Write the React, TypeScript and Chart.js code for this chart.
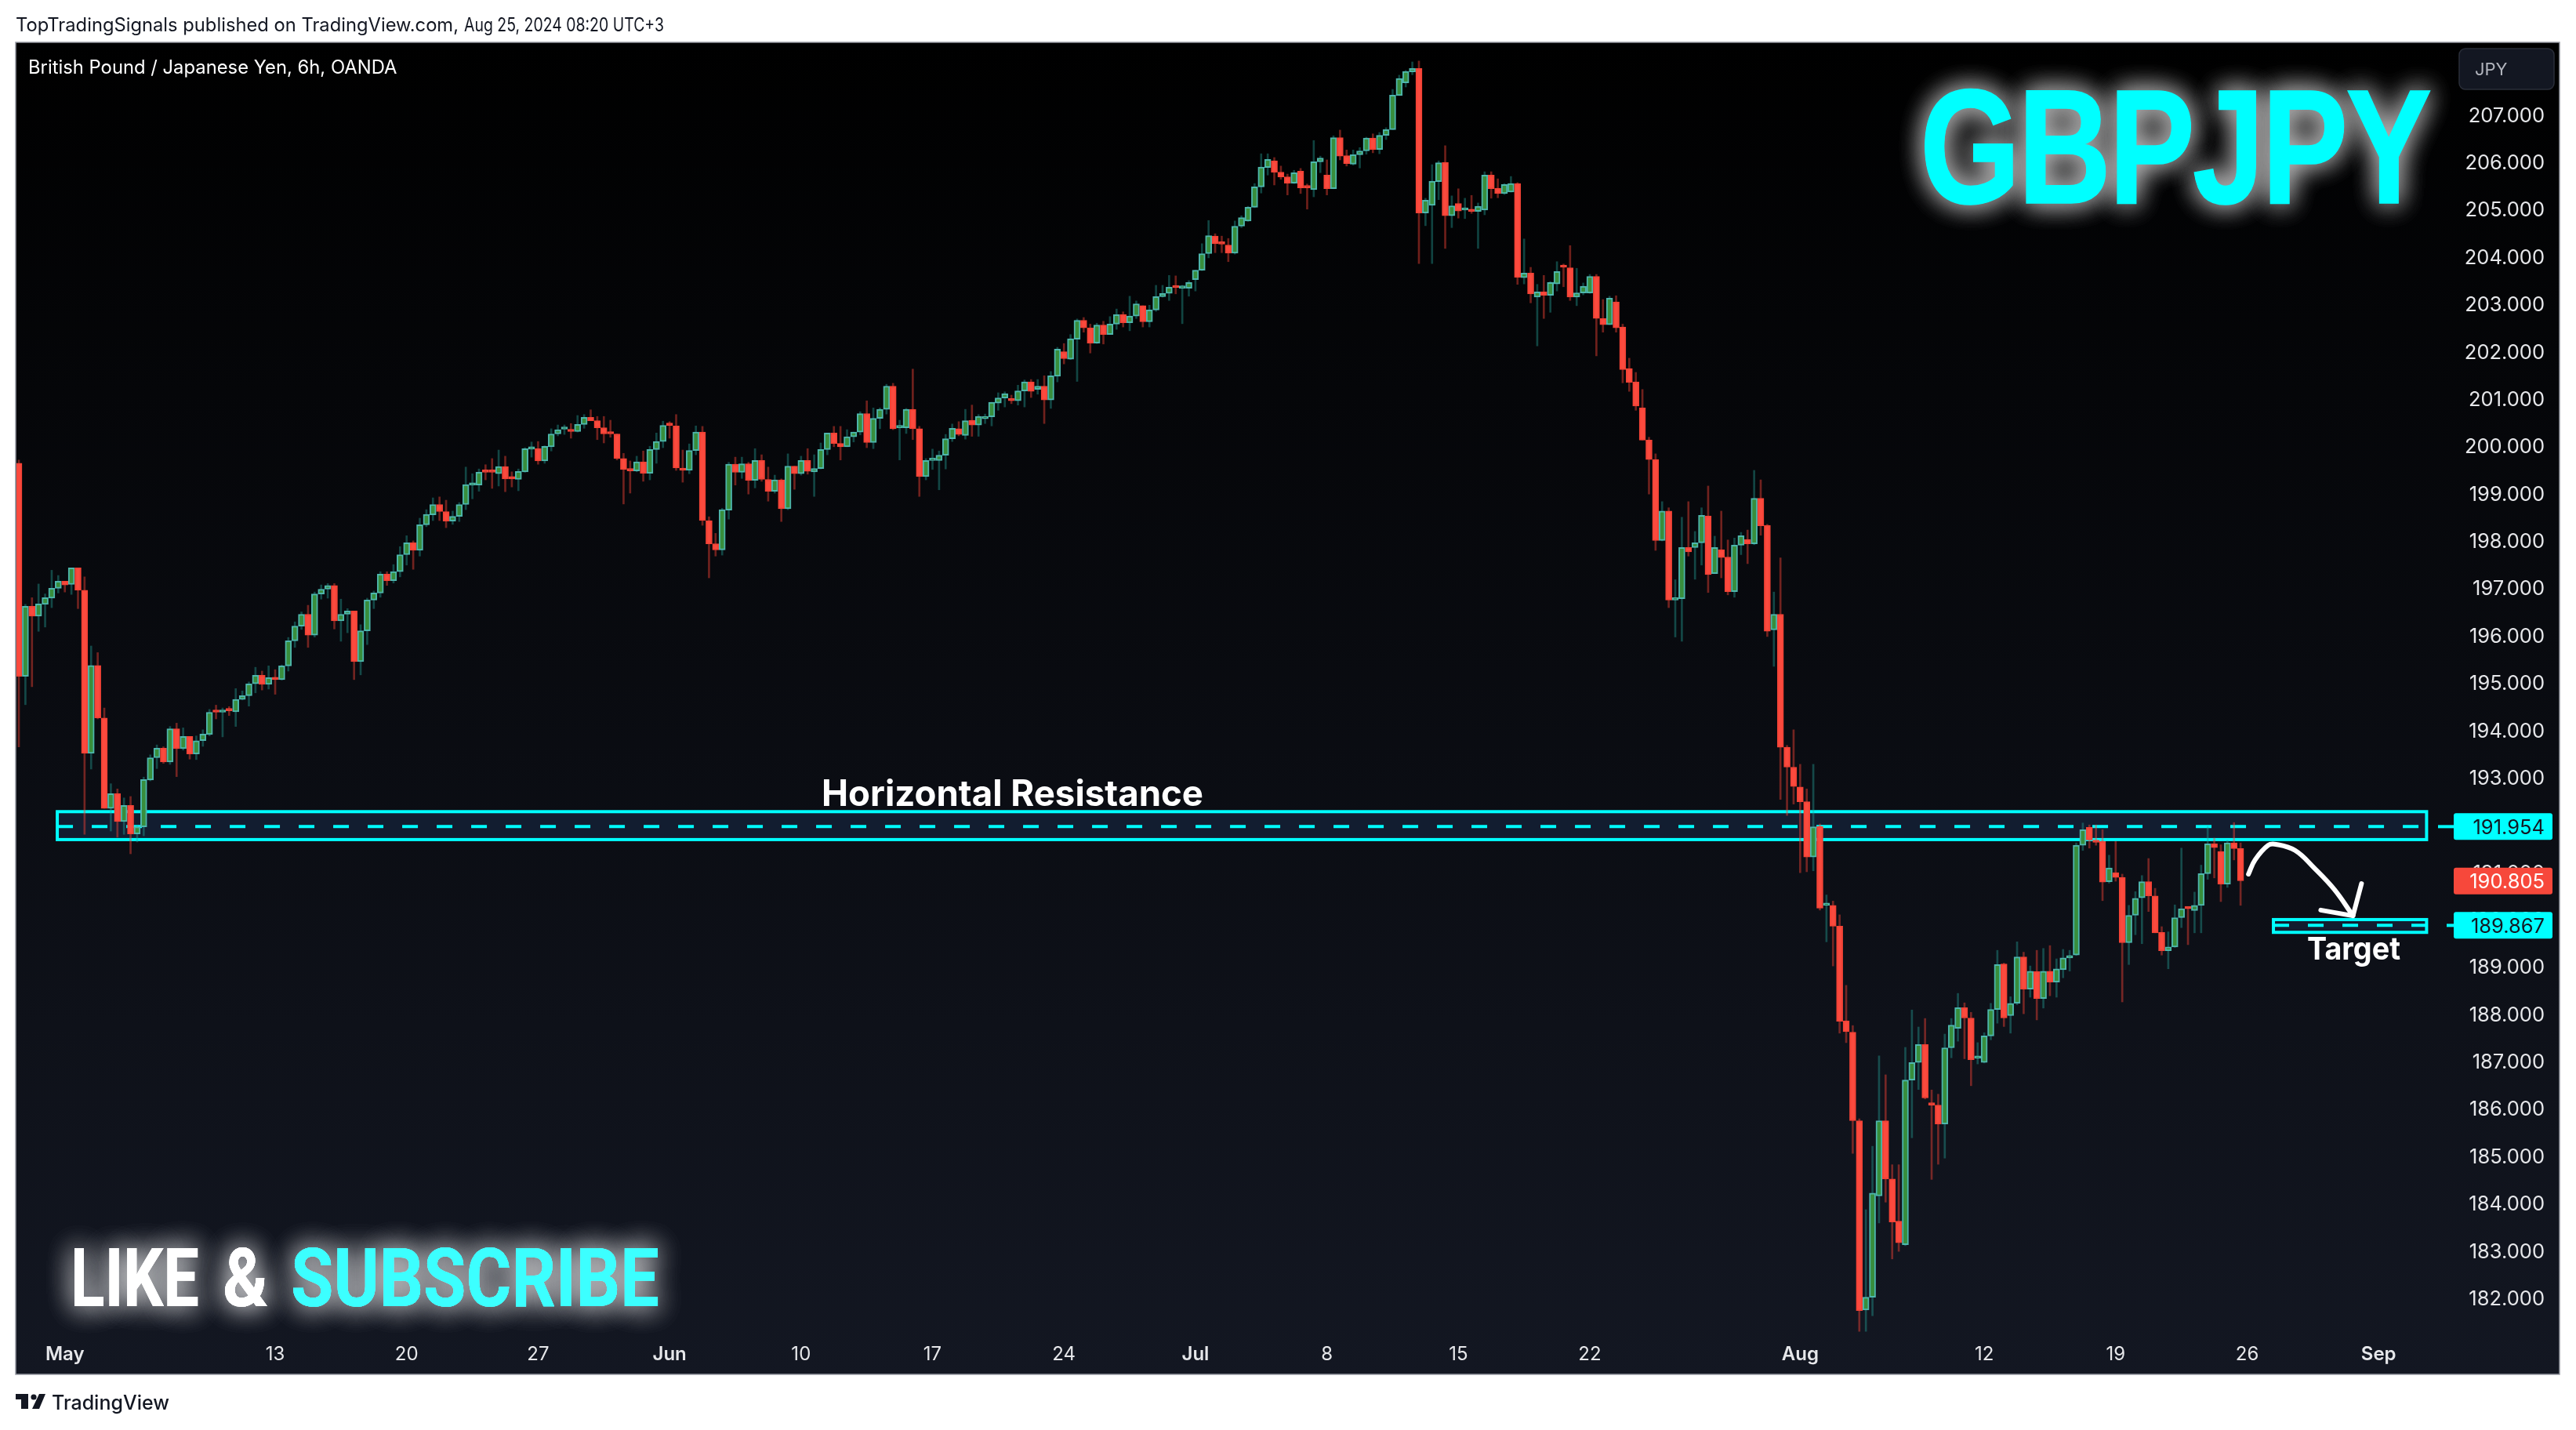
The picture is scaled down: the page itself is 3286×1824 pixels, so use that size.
import React, { useEffect, useRef } from 'react';
import Chart from 'chart.js/auto';

// 6h candles, left to right
const opens = [
  199.63,195.13,196.61,196.40,196.65,196.78,196.99,197.14,197.07,197.42,
  196.95,193.50,195.36,194.25,192.34,192.65,192.06,192.40,191.80,191.95,
  192.94,193.41,193.61,193.32,194.02,193.60,193.86,193.49,193.77,193.90,
  194.39,194.37,194.43,194.38,194.64,194.72,194.97,195.15,194.96,195.10,
  195.06,195.35,195.88,196.19,196.44,196.00,196.87,196.97,197.05,196.30,
  196.44,196.51,195.44,196.09,196.74,196.89,197.29,197.15,197.34,197.70,
  197.95,197.79,198.33,198.54,198.76,198.61,198.41,198.51,198.76,199.17,
  199.17,199.46,199.46,199.41,199.56,199.33,199.29,199.45,199.93,199.94,
  199.68,199.98,200.25,200.35,200.35,200.30,200.45,200.60,200.53,200.38,
  200.27,200.25,199.73,199.51,199.47,199.66,199.42,199.92,200.09,200.45,
  200.42,199.53,199.48,199.90,200.29,198.42,197.93,197.80,198.64,199.61,
  199.44,199.62,199.27,199.69,199.29,199.04,199.28,198.67,199.57,199.41,
  199.69,199.45,199.52,199.92,200.27,200.05,199.98,200.19,200.29,200.68,
  200.07,200.58,200.77,201.26,200.38,200.38,200.77,200.36,199.35,199.69,
  199.69,199.80,200.15,200.36,200.22,200.54,200.44,200.57,200.61,200.90,
  201.01,201.00,200.95,201.16,201.35,201.19,201.26,200.97,201.47,201.99,
  201.83,202.25,202.65,202.49,202.17,202.55,202.35,202.57,202.77,202.60,
  202.74,202.96,202.62,202.87,203.15,203.22,203.37,203.33,203.33,203.51,
  203.71,204.06,204.43,204.28,204.24,204.07,204.64,204.75,205.04,205.47,
  205.88,206.02,205.78,205.68,205.55,205.80,205.47,205.41,206.00,205.72,
  205.43,206.51,206.13,205.95,206.15,206.23,206.50,206.26,206.56,206.68,
  207.40,207.67,207.90,207.97,204.92,205.08,205.58,205.99,204.86,205.12,
  204.98,204.99,204.95,204.98,205.72,205.44,205.33,205.36,205.54,203.55,
  203.65,203.14,203.25,203.18,203.42,203.80,203.76,203.14,203.23,203.23,
  203.58,202.69,202.56,203.04,202.51,201.63,201.35,200.80,200.12,199.71,
  198.00,198.62,196.74,196.77,197.85,197.85,197.95,198.52,197.30,197.80,
  197.65,196.92,197.90,198.02,197.93,198.89,198.32,196.11,196.44,193.63,
  193.21,192.79,192.48,191.31,191.96,190.29,190.29,189.85,187.85,187.61,
  185.74,181.74,182.01,184.15,185.74,184.51,183.62,183.12,186.60,186.97,
  187.35,186.12,186.07,185.67,187.28,187.69,188.13,187.91,187.06,186.97,
  187.53,188.09,189.05,187.96,188.22,189.20,188.52,188.89,188.32,188.90,
  188.67,188.93,189.18,189.24,191.56,191.94,191.67,191.64,190.79,190.98,
  190.88,189.50,190.08,190.45,190.79,190.49,189.72,189.33,189.41,190.03,
  190.24,190.18,190.29,190.96,191.59,191.43,190.74,191.61,191.49,
];
const highs = [
  199.70,196.65,196.79,197.08,196.87,197.37,197.26,197.14,197.42,197.42,
  197.23,195.77,195.63,194.46,192.86,192.75,192.56,192.59,191.97,193.00,
  193.47,193.68,193.64,194.07,194.14,194.04,193.86,193.87,194.00,194.43,
  194.52,194.46,194.49,194.87,194.82,195.01,195.32,195.24,195.35,195.27,
  195.37,195.95,196.28,196.49,196.63,196.91,197.06,197.09,197.09,196.76,
  196.56,196.51,196.22,196.78,196.93,197.34,197.34,197.49,197.87,198.10,
  197.99,198.47,198.65,198.90,198.92,198.85,198.62,198.80,199.55,199.41,
  199.51,199.60,199.73,199.91,199.78,199.45,199.51,199.96,200.08,200.09,
  200.00,200.36,200.44,200.44,200.47,200.64,200.66,200.76,200.62,200.62,
  200.54,200.25,199.84,199.68,199.78,199.89,199.99,200.27,200.52,200.51,
  200.66,199.91,200.04,200.42,200.41,198.50,198.15,198.68,199.65,199.76,
  199.76,199.65,199.94,199.81,199.55,199.38,199.30,199.83,199.57,199.78,
  199.94,199.81,200.06,200.27,200.41,200.41,200.34,200.29,200.72,200.95,
  200.80,200.80,201.30,201.32,200.54,200.79,201.62,200.41,199.73,199.93,
  199.89,200.24,200.46,200.51,200.77,200.86,200.66,200.67,200.92,201.12,
  201.14,201.07,201.28,201.39,201.40,201.40,201.48,201.57,202.08,202.16,
  202.35,202.68,202.71,202.57,202.59,202.63,202.73,202.89,202.83,203.16,
  203.06,202.96,202.97,203.39,203.39,203.60,203.59,203.39,203.49,203.71,
  204.27,204.76,204.48,204.43,204.38,204.75,204.86,205.06,205.54,206.17,
  206.17,206.09,205.91,205.74,205.82,205.86,205.53,206.45,206.12,206.04,
  206.55,206.67,206.25,206.25,206.30,206.52,206.59,206.62,206.72,207.53,
  207.83,207.93,208.11,208.13,205.23,205.94,206.02,206.34,205.28,205.43,
  205.23,205.29,205.13,205.79,205.79,205.64,205.54,205.69,205.56,204.37,
  203.77,203.41,203.60,203.47,203.89,203.84,204.23,203.75,203.44,203.62,
  203.62,203.09,203.16,203.17,202.57,201.85,201.55,201.19,200.18,199.83,
  198.82,198.69,197.17,198.49,198.82,198.19,198.69,199.15,198.09,198.62,
  198.01,198.05,198.17,198.22,199.48,199.28,198.34,196.91,197.63,193.67,
  194.00,193.27,192.75,193.27,192.01,190.51,190.38,190.09,188.60,187.75,
  185.78,183.86,185.20,187.11,186.71,184.81,184.81,187.29,188.08,187.72,
  187.90,186.39,186.30,187.57,187.90,188.43,188.23,188.03,187.39,187.60,
  188.22,189.34,189.07,188.36,189.52,189.30,189.01,189.34,189.38,189.44,
  189.16,189.36,189.34,191.61,192.03,191.99,191.99,191.89,191.35,191.64,
  190.95,190.29,190.58,190.92,191.28,190.65,189.84,189.73,190.30,191.50,
  190.24,190.57,191.14,191.96,191.71,191.57,191.67,192.04,191.61,
];
const lows = [
  193.64,194.53,194.91,196.08,196.17,196.58,196.89,196.91,196.86,196.56,
  191.79,193.17,194.23,192.34,191.86,191.73,191.79,191.38,191.63,191.76,
  192.92,193.18,193.29,193.27,193.01,193.57,193.38,193.37,193.65,193.87,
  194.23,193.85,194.30,194.07,194.63,194.50,194.78,194.84,194.86,194.75,
  195.05,195.24,195.74,196.12,195.74,195.96,196.76,196.78,196.13,195.87,
  196.05,195.06,195.16,195.80,196.56,196.80,197.05,197.10,197.23,197.48,
  197.39,197.67,198.29,198.42,198.42,198.27,198.34,198.40,198.65,198.88,
  199.04,199.28,199.10,199.15,199.03,199.13,199.05,199.44,199.76,199.61,
  199.63,199.89,200.21,200.24,200.16,200.29,200.37,200.53,200.13,200.06,
  200.18,199.70,198.77,199.00,199.45,199.25,199.28,199.63,199.96,200.16,
  199.48,199.23,199.41,199.81,198.32,197.21,197.67,197.69,198.45,199.17,
  199.31,198.98,199.11,199.25,198.83,199.00,198.40,198.65,199.08,199.38,
  199.40,198.93,199.51,199.81,199.98,199.70,199.98,200.08,200.23,199.96,
  199.94,200.36,200.67,200.34,199.70,200.26,200.13,198.93,199.28,199.50,
  199.07,199.51,200.09,200.21,200.14,200.20,200.20,200.47,200.42,200.75,
  200.82,200.89,200.86,200.82,201.02,201.09,200.47,200.79,201.35,201.73,
  201.82,201.36,202.40,201.96,202.16,202.15,202.35,202.46,202.51,202.43,
  202.69,202.51,202.51,202.84,203.14,203.07,203.21,202.58,203.16,203.27,
  203.70,203.97,204.08,204.08,203.89,204.05,204.61,204.74,205.03,205.34,
  205.72,205.51,205.63,205.30,205.54,205.33,205.00,205.26,205.77,205.30,
  205.43,206.04,205.91,205.93,205.87,206.16,206.19,206.17,206.47,206.68,
  207.40,207.58,207.84,203.85,204.65,203.85,205.20,204.17,204.61,204.81,
  204.80,204.91,204.17,204.88,205.23,205.24,205.31,205.36,203.41,203.42,
  203.02,202.11,202.69,202.82,203.27,203.36,203.07,202.96,203.19,203.22,
  201.90,202.40,202.56,202.40,201.33,201.15,200.75,200.12,198.98,197.79,
  197.99,196.58,195.96,195.87,197.67,197.18,197.48,196.90,197.30,197.21,
  196.85,196.80,197.70,197.51,197.91,198.11,195.97,195.34,192.53,192.19,
  192.43,190.98,191.00,191.02,190.19,189.52,189.01,187.59,187.39,185.05,
  181.29,181.29,181.62,183.58,184.02,182.82,182.98,183.10,185.38,186.40,
  186.20,184.50,184.82,184.95,187.07,187.42,187.05,186.48,186.94,186.96,
  187.45,187.80,187.73,187.59,188.19,188.00,188.35,187.87,188.12,188.38,
  188.35,188.76,188.90,189.23,191.45,191.50,191.56,190.39,190.76,190.80,
  188.25,189.04,189.67,189.48,190.16,189.71,189.24,188.95,189.40,189.82,
  189.46,189.71,189.71,190.84,190.87,190.37,190.67,191.25,190.29,
];
const closes = [
  195.13,196.61,196.40,196.66,196.79,196.99,197.14,197.06,197.42,196.95,
  193.50,195.36,194.25,192.34,192.65,192.06,192.40,191.80,191.95,192.95,
  193.41,193.61,193.32,194.02,193.60,193.86,193.49,193.77,193.91,194.37,
  194.37,194.40,194.40,194.64,194.72,194.97,195.15,194.96,195.10,195.06,
  195.35,195.88,196.19,196.44,196.00,196.87,196.97,197.05,196.30,196.44,
  196.51,195.44,196.09,196.74,196.89,197.29,197.15,197.34,197.70,197.95,
  197.79,198.33,198.55,198.76,198.61,198.41,198.51,198.76,199.18,199.19,
  199.44,199.44,199.44,199.56,199.30,199.30,199.46,199.94,199.95,199.68,
  199.99,200.25,200.34,200.37,200.30,200.45,200.60,200.53,200.38,200.25,
  200.25,199.73,199.50,199.47,199.66,199.42,199.92,200.09,200.43,200.43,
  199.53,199.48,199.90,200.29,198.42,197.93,197.80,198.65,199.61,199.44,
  199.62,199.27,199.69,199.29,199.04,199.28,198.67,199.57,199.41,199.69,
  199.46,199.52,199.92,200.27,200.05,199.98,200.19,200.29,200.68,200.07,
  200.58,200.77,201.26,200.36,200.40,200.77,200.36,199.35,199.69,199.72,
  199.80,200.15,200.37,200.24,200.53,200.44,200.62,200.62,200.92,201.01,
  201.10,200.95,201.16,201.35,201.15,201.26,200.97,201.48,202.04,201.84,
  202.26,202.65,202.49,202.17,202.55,202.35,202.57,202.77,202.60,202.74,
  203.00,202.62,202.87,203.15,203.22,203.35,203.34,203.35,203.45,203.71,
  204.06,204.44,204.27,204.26,204.07,204.64,204.82,205.04,205.47,205.89,
  206.05,205.78,205.68,205.55,205.77,205.45,205.45,206.00,206.08,205.43,
  206.51,206.12,205.96,206.15,206.23,206.50,206.26,206.56,206.68,207.41,
  207.76,207.91,207.97,204.92,205.19,205.59,205.98,204.86,205.07,204.96,
  205.01,204.95,205.06,205.72,205.43,205.33,205.52,205.54,203.56,203.65,
  203.21,203.25,203.18,203.45,203.68,203.77,203.14,203.23,203.37,203.58,
  202.69,202.56,203.12,202.49,201.61,201.34,200.84,200.12,199.71,198.00,
  198.62,196.74,196.77,197.85,197.76,197.95,198.53,197.28,197.85,197.64,
  196.92,197.90,198.10,197.93,198.89,198.31,196.08,196.44,193.63,193.21,
  192.80,192.48,191.31,191.95,190.23,190.31,189.85,187.84,187.62,185.74,
  181.73,182.01,184.21,185.74,184.51,183.60,183.16,186.60,186.97,187.35,
  186.22,186.07,185.67,187.28,187.76,188.13,187.91,187.03,187.08,187.53,
  188.09,189.04,187.91,188.22,189.20,188.52,188.90,188.32,188.90,188.67,
  188.95,189.18,189.23,191.56,191.89,191.67,191.62,190.78,191.08,190.88,
  189.50,190.08,190.44,190.79,190.49,189.71,189.33,189.41,190.03,190.22,
  190.22,190.29,190.96,191.59,191.51,190.74,191.61,191.49,190.81,
];

const xTickIndex = [7, 39, 59, 79, 99, 119, 139, 159, 179, 199, 219, 239, 271, 299, 319, 339, 359];
const xTickLabels = ['May', '13', '20', '27', 'Jun', '10', '17', '24', 'Jul', '8', '15', '22', 'Aug', '12', '19', '26', 'Sep'];
const monthLabels = ['May', 'Jun', 'Jul', 'Aug', 'Sep'];
const yTicks = [182, 183, 184, 185, 186, 187, 188, 189, 190, 191, 192, 193, 194, 195, 196, 197, 198, 199, 200, 201, 202, 203, 204, 205, 206, 207];

// zones, in candle index and price
const resistanceZone = { from: 5.85, to: 366.3, top: 192.27, mid: 191.954, bottom: 191.68 };
const targetZone = { from: 343, to: 366.3, top: 189.99, mid: 189.867, bottom: 189.72 };
const lastPrice = 190.805;

const arrowX = [339.2, 340.2, 342.2, 343.4, 346.3, 349.2, 352.3, 355.1];
const arrowY = [190.95, 191.25, 191.56, 191.58, 191.45, 191.08, 190.62, 190.07];
const arrowHeadX = [356.4, 355.1, 350.2];
const arrowHeadY = [190.75, 190.07, 190.19];

const UP_FILL = '#388e3c';
const UP_EDGE = '#4db6ac';
const DOWN_FILL = '#fb4a3e';
const DOWN_EDGE = '#f44336';
const UP_WICK = 'rgba(38,166,154,0.40)';
const DOWN_WICK = 'rgba(244,67,54,0.45)';
const CYAN = '#00ffff';
const TICK_FONT = 'Inter, sans-serif';

const isUp = closes.map((c, i) => c >= opens[i]);

function fitText(ctx: any, text: string, x: number, base: number, width: number, font: string, color: string, glow?: string, spacing = 0, stroke = 0) {
  ctx.save();
  ctx.font = font;
  ctx.fillStyle = color;
  ctx.textAlign = 'left';
  ctx.textBaseline = 'alphabetic';
  ctx.letterSpacing = `${spacing}px`;
  const w = ctx.measureText(text).width;
  ctx.translate(x, base);
  ctx.scale(width / w, 1);
  if (glow) {
    ctx.shadowColor = glow;
    ctx.shadowBlur = 34;
    ctx.fillText(text, 0, 0);
    ctx.fillText(text, 0, 0);
  }
  ctx.fillText(text, 0, 0);
  if (stroke) {
    ctx.shadowColor = 'transparent';
    ctx.strokeStyle = color;
    ctx.lineWidth = stroke;
    ctx.strokeText(text, 0, 0);
  }
  ctx.restore();
}

function plainText(ctx: any, text: string, x: number, y: number, font: string, color: string, align = 'left') {
  ctx.save();
  ctx.font = font;
  ctx.fillStyle = color;
  ctx.textAlign = align;
  ctx.textBaseline = 'middle';
  ctx.fillText(text, x, y);
  ctx.restore();
}

function drawZone(chart: any, z: typeof targetZone) {
  const { ctx, scales } = chart;
  const x1 = scales.x.getPixelForValue(z.from);
  const x2 = scales.x.getPixelForValue(z.to);
  const top = scales.y.getPixelForValue(z.top);
  const bottom = scales.y.getPixelForValue(z.bottom);
  const mid = scales.y.getPixelForValue(z.mid);
  ctx.save();
  ctx.fillStyle = '#121d30';
  ctx.fillRect(x1, top, x2 - x1, bottom - top);
  ctx.strokeStyle = CYAN;
  ctx.lineWidth = 4;
  ctx.strokeRect(x1, top, x2 - x1, bottom - top);
  ctx.setLineDash([20, 24]);
  ctx.lineWidth = 4;
  ctx.beginPath();
  ctx.moveTo(x1, mid);
  ctx.lineTo(x2, mid);
  ctx.stroke();
  ctx.restore();
}

function priceTag(chart: any, value: number, bg: string, fg: string, stub: number) {
  const { ctx, scales } = chart;
  const y = scales.y.getPixelForValue(value);
  ctx.save();
  if (stub) {
    ctx.strokeStyle = bg;
    ctx.lineWidth = 4;
    ctx.beginPath();
    ctx.moveTo(stub, y);
    ctx.lineTo(3130, y);
    ctx.stroke();
  }
  ctx.fillStyle = bg;
  ctx.beginPath();
  ctx.roundRect(3130, y - 17, 126, 34, 3);
  ctx.fill();
  ctx.restore();
  plainText(ctx, value.toFixed(3), 3246, y + 2, `25.5px ${TICK_FONT}`, fg, 'right');
}

const backdrop = {
  id: 'backdrop',
  beforeDraw(chart: any) {
    const { ctx, width, height } = chart;
    ctx.save();
    ctx.fillStyle = '#ffffff';
    ctx.fillRect(0, 0, width, height);
    const g = ctx.createLinearGradient(0, 54, 0, 1753);
    g.addColorStop(0, '#000000');
    g.addColorStop(1, '#131722');
    ctx.fillStyle = g;
    ctx.fillRect(20, 54, 3245, 1699);
    ctx.strokeStyle = '#9598a1';
    ctx.lineWidth = 1.5;
    ctx.strokeRect(20, 54, 3245, 1699);
    ctx.restore();
  },
  beforeDatasetsDraw(chart: any) {
    drawZone(chart, resistanceZone);
    drawZone(chart, targetZone);
  },
};

const overlay = {
  id: 'overlay',
  afterDraw(chart: any) {
    const { ctx } = chart;
    fitText(ctx, 'TopTradingSignals published on TradingView.com,', 20, 40, 565, `23.7px ${TICK_FONT}`, '#131722');
    fitText(ctx, 'Aug 25, 2024 08:20 UTC+3', 592, 40, 255, `23.7px ${TICK_FONT}`, '#131722');
    plainText(ctx, 'British Pound / Japanese Yen, 6h, OANDA', 36, 87, `23.8px ${TICK_FONT}`, '#ffffff');

    priceTag(chart, lastPrice, '#f7483b', '#ffffff', 0);
    priceTag(chart, resistanceZone.mid, CYAN, '#131722', 3110);
    priceTag(chart, targetZone.mid, CYAN, '#131722', 3121);

    // currency button
    ctx.save();
    ctx.fillStyle = '#131722';
    ctx.strokeStyle = '#2a2e39';
    ctx.lineWidth = 1.5;
    ctx.beginPath();
    ctx.roundRect(3137, 62, 121, 52, 8);
    ctx.fill();
    ctx.stroke();
    ctx.restore();
    plainText(ctx, 'JPY', 3157, 89, `22px ${TICK_FONT}`, '#b2b5be');

    fitText(ctx, 'GBPJPY', 2449, 259, 650, 'bold 208px "Liberation Sans"', CYAN, 'rgba(255,255,255,0.45)', -4, 1.5);
    fitText(ctx, 'LIKE', 90, 1666, 164, 'bold 103px Roboto', '#ffffff', 'rgba(255,255,255,0.5)');
    fitText(ctx, '&', 284, 1666, 58, 'bold 103px Roboto', '#ffffff', 'rgba(255,255,255,0.5)');
    fitText(ctx, 'SUBSCRIBE', 371, 1666, 470, 'bold 103px Roboto', '#3cffff', 'rgba(255,255,255,0.5)');
    fitText(ctx, 'Horizontal Resistance', 1048, 1028, 487, `700 46px ${TICK_FONT}`, '#ffffff');
    fitText(ctx, 'Target', 2943, 1224, 119, `700 40px ${TICK_FONT}`, '#ffffff');

    // TradingView mark
    ctx.save();
    ctx.fillStyle = '#131722';
    ctx.beginPath();
    ctx.moveTo(20, 1778);
    ctx.lineTo(36, 1778);
    ctx.lineTo(36, 1797);
    ctx.lineTo(27, 1797);
    ctx.lineTo(27, 1785);
    ctx.lineTo(20, 1785);
    ctx.closePath();
    ctx.fill();
    ctx.beginPath();
    ctx.arc(43, 1782, 3.6, 0, Math.PI * 2);
    ctx.fill();
    ctx.beginPath();
    ctx.moveTo(50, 1778);
    ctx.lineTo(58, 1778);
    ctx.lineTo(50, 1797);
    ctx.lineTo(41, 1797);
    ctx.closePath();
    ctx.fill();
    ctx.restore();
    plainText(ctx, 'TradingView', 66, 1790, `500 25px ${TICK_FONT}`, '#131722');
  },
};

export default function App(): React.JSX.Element {
  const canvasRef = useRef<HTMLCanvasElement | null>(null);

  useEffect(() => {
    if (!canvasRef.current) return;
    const chart = new Chart(canvasRef.current, {
      type: 'bar',
      data: {
        datasets: [
          {
            type: 'line',
            data: arrowHeadX.map((x, i) => ({ x, y: arrowHeadY[i] })),
            borderColor: '#ffffff',
            borderWidth: 6,
            borderCapStyle: 'round',
            borderJoinStyle: 'round',
            pointRadius: 0,
            order: 0,
          },
          {
            type: 'line',
            data: arrowX.map((x, i) => ({ x, y: arrowY[i] })),
            borderColor: '#ffffff',
            borderWidth: 6,
            borderCapStyle: 'round',
            tension: 0.4,
            pointRadius: 0,
            order: 0,
          },
          {
            label: 'bodies',
            data: closes.map((c, i) => ({ x: i, y: [opens[i], c] })),
            backgroundColor: isUp.map((u) => (u ? UP_FILL : DOWN_FILL)),
            borderColor: isUp.map((u) => (u ? UP_EDGE : DOWN_EDGE)),
            borderWidth: 2,
            borderSkipped: false,
            barThickness: 8,
            grouped: false,
            minBarLength: 3,
            order: 1,
          },
          {
            label: 'wicks',
            data: highs.map((h, i) => ({ x: i, y: [lows[i], h] })),
            backgroundColor: isUp.map((u) => (u ? UP_WICK : DOWN_WICK)),
            barThickness: 2,
            grouped: false,
            order: 2,
          },
        ],
      },
      options: {
        animation: false,
        responsive: false,
        devicePixelRatio: 1,
        layout: { padding: { left: 21, right: 40, top: 54, bottom: 71 } },
        plugins: { legend: { display: false }, tooltip: { enabled: false } },
        scales: {
          x: {
            type: 'linear',
            offset: false,
            min: -0.36,
            max: 368.04,
            grid: { display: false, drawTicks: false },
            border: { display: false },
            afterBuildTicks: (scale: any) => {
              scale.ticks = xTickIndex.map((value) => ({ value }));
            },
            afterFit: (scale: any) => {
              scale.height = 50;
            },
            ticks: {
              autoSkip: false,
              maxRotation: 0,
              padding: 10,
              color: '#e6e7ea',
              font: (c: any) => ({
                family: TICK_FONT,
                size: 24,
                weight: monthLabels.includes(c.tick?.label) ? '600' : '400',
              }),
              callback: (v: any) => xTickLabels[xTickIndex.indexOf(v)] ?? '',
            },
          },
          y: {
            type: 'linear',
            position: 'right',
            min: 181.21,
            max: 208.524,
            grid: { display: false, drawTicks: false },
            border: { display: false },
            afterBuildTicks: (scale: any) => {
              scale.ticks = yTicks.map((value) => ({ value }));
            },
            afterFit: (scale: any) => {
              scale.width = 136;
            },
            ticks: {
              autoSkip: false,
              crossAlign: 'far',
              padding: 0,
              labelOffset: 2,
              color: '#e6e7ea',
              font: { family: TICK_FONT, size: 25.5 },
              callback: (v: any) => Number(v).toFixed(3),
            },
          },
        },
      },
      plugins: [backdrop, overlay],
    } as any);
    return () => chart.destroy();
  }, []);

  return (
    <div style={{ position: 'absolute', left: 0, top: 0, width: 3286, height: 1824, background: '#fff' }}>
      <canvas ref={canvasRef} width={3286} height={1824} style={{ display: 'block', width: 3286, height: 1824 }} />
    </div>
  );
}
